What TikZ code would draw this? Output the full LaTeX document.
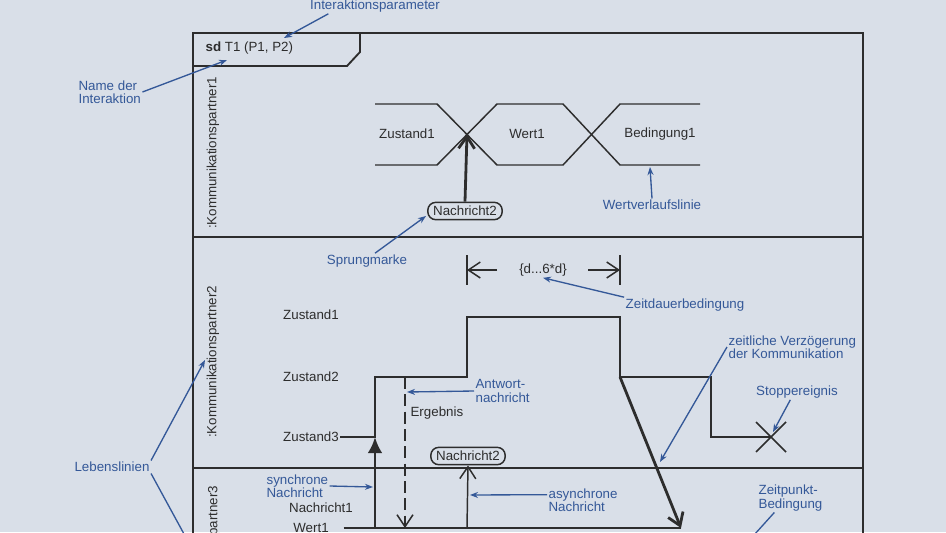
\documentclass[tikz,border=0pt]{standalone}
\usepackage{fontspec}
\setmainfont{Liberation Sans}
\usetikzlibrary{arrows.meta}
\tikzset{>={Straight Barb[length=9pt,width=12pt]}}
\definecolor{bg}{RGB}{217,223,232}
\definecolor{ink}{RGB}{45,45,45}
\definecolor{note}{RGB}{52,88,152}
\newcommand{\lblfont}{\fontsize{10}{10}\selectfont}
\tikzset{
  frame/.style={draw=ink,line width=1.4pt},
  wire/.style={draw=ink,line width=1.1pt},
  heavy/.style={draw=ink,line width=2.1pt},
  lbl/.style={text=ink,font=\lblfont,inner sep=1pt},
  notelbl/.style={text=note,font=\lblfont,align=left,inner sep=1pt},
  lead/.style={draw=note,line width=1pt,-{Stealth[length=6pt,width=4.5pt]}},
  jump/.style={draw=ink,line width=1.1pt,rounded corners=6pt,inner xsep=4pt,inner ysep=0pt,minimum height=13pt,text=ink,font=\lblfont}
}

\begin{document}
\begin{tikzpicture}[x=0.75pt,y=-0.75pt]
  \useasboundingbox[fill=bg] (0,0) rectangle (946,532);
  \clip (0,0) rectangle (946,532);
  \draw[frame] (193,33) rectangle (863,720);
  \draw[frame] (193,66) -- (347,66) -- (360,52) -- (360,33);
  \draw[frame] (193,237) -- (863,237);
  \draw[frame] (193,468) -- (863,468);
  \node[lbl,anchor=west] (title) at (204,48) {\textbf{sd} T1 (P1, P2)};
  \node[lbl,rotate=90] (kp1) at (213,153) {:Kommunikationspartner1};
  \node[lbl,rotate=90] (kp2) at (213,362) {:Kommunikationspartner2};
  \node[lbl,rotate=90] (kp3) at (214,562) {:Kommunikationspartner3};

  \draw[wire] (375,104) -- (437,104) -- (497,165) -- (563,165) -- (620,104) -- (700,104);
  \draw[wire] (375,165) -- (437,165) -- (497,104) -- (563,104) -- (620,165) -- (700,165);
  \coordinate (cross) at (467,134);
  \node[lbl] (zu1) at (407,134) {Zustand1};
  \node[lbl] (we1) at (527,134) {Wert1};
  \node[lbl] (be1) at (660,134) {Bedingung1};
  \node[jump] (msgA) at (465,211) {Nachricht2};
  \draw[heavy,->] (msgA.north) -- (cross);

  \node[lbl] (zs1) at (311,315) {Zustand1};
  \node[lbl] (zs2) at (311,377) {Zustand2};
  \node[lbl] (zs3) at (311,437) {Zustand3};
  \coordinate (stop) at (771,437);
  \draw[wire] (zs3.east) -- (375,437) -- (375,377) -- (467,377) -- (467,317) -- (620,317) -- (620,377) -- (711,377) -- (711,437) -- (stop);
  \draw[wire] (stop) +(-15,-15) -- +(15,15) +(-15,15) -- +(15,-15);
  \coordinate (durL) at (467,270);
  \coordinate (durR) at (620,270);
  \draw[wire] (durL) ++(0,-15) -- ++(0,30);
  \draw[wire] (durR) ++(0,-15) -- ++(0,30);
  \draw[wire,->] (durL) ++(30,0) -- (durL);
  \draw[wire,->] (durR) ++(-32,0) -- (durR);
  \node[lbl] (dur) at (543,270) {\{d...6*d\}};
  \node[lbl,anchor=west] (erg) at (409,413) {Ergebnis};
  \node[jump] (msgB) at (468,456) {Nachricht2};

  \node[lbl] (na1) at (321,508) {Nachricht1};
  \node[lbl] (wt) at (311,528) {Wert1};
  \coordinate (syncTip) at (375,437);
  \coordinate (syncFoot) at (375,528);
  \coordinate (replyTop) at (405,377);
  \coordinate (replyFoot) at (405,528);
  \coordinate (asyncFoot) at (467,528);
  \coordinate (delayTop) at (620,377);
  \coordinate (delayFoot) at (681,528);
  \draw[wire] ([xshift=10pt]wt.east) -- (delayFoot);
  \draw[heavy,-{Latex[length=12pt,width=11pt]}] (syncFoot) -- (syncTip);
  \draw[wire,dash pattern=on 9pt off 4pt,->] (replyTop) -- (replyFoot);
  \draw[wire,->] (asyncFoot) -- (msgB.south);
  \draw[heavy,->] (delayTop) -- (delayFoot);

  \node[notelbl] (ip) at (375,6) {Interaktionsparameter};
  \node[notelbl,anchor=west] (nd) at (77,92) {Name der\\Interaktion};
  \node[notelbl] (wv) at (652,205) {Wertverlaufslinie};
  \node[notelbl] (sm) at (367,261) {Sprungmarke};
  \node[notelbl] (zd) at (685,305) {Zeitdauerbedingung};
  \node[notelbl,anchor=west] (an) at (474,391) {Antwort-\\nachricht};
  \node[notelbl,anchor=west] (zv) at (727,347) {zeitliche Verzögerung\\der Kommunikation};
  \node[notelbl] (se) at (797,392) {Stoppereignis};
  \node[notelbl] (lb) at (112,467) {Lebenslinien};
  \node[notelbl,anchor=west] (sn) at (265,486) {synchrone\\Nachricht};
  \node[notelbl,anchor=west] (an2) at (547,500) {asynchrone\\Nachricht};
  \node[notelbl,anchor=west] (zp) at (757,498) {Zeitpunkt-\\Bedingung};
  \coordinate (ipTip) at (284,38);
  \coordinate (ndTip) at (227,60);
  \coordinate (wvTip) at (650,167);
  \coordinate (smTip) at (426,216);
  \coordinate (anTip) at (407,392);
  \coordinate (zvTip) at (660,462);
  \coordinate (seTip) at (773,432);
  \coordinate (lbTip1) at (205,360);
  \coordinate (lbTip2) at (208,578);
  \coordinate (snTip) at (373,487);
  \coordinate (an2Tip) at (470,495);
  \coordinate (zpTip) at (745,545);
  \draw[lead] ([xshift=-35pt]ip.south) -- (ipTip);
  \draw[lead] (nd.east) -- (ndTip);
  \draw[lead] (wv.north) -- (wvTip);
  \draw[lead] ([xshift=6pt]sm.north) -- (smTip);
  \draw[lead] (zd.north west) -- (dur.south);
  \draw[lead] (an.west) -- (anTip);
  \draw[lead] (zv.west) -- (zvTip);
  \draw[lead] ([xshift=-5pt]se.south) -- (seTip);
  \draw[lead] (lb.north east) -- (lbTip1);
  \draw[lead] (lb.south east) -- (lbTip2);
  \draw[lead] (sn.east) -- (snTip);
  \draw[lead] ([yshift=4pt]an2.west) -- (an2Tip);
  \draw[lead] ([xshift=13pt]zp.south west) -- (zpTip);
\end{tikzpicture}
\end{document}
